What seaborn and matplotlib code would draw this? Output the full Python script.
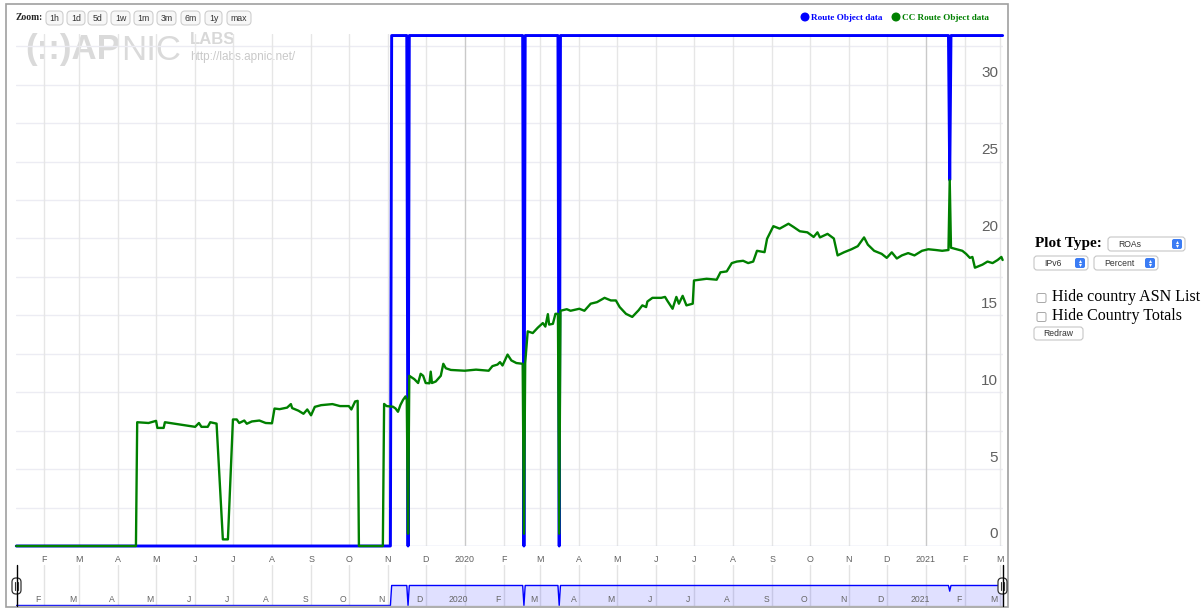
"""
Recreation of an APNIC Labs route-object chart (Highstock look) with seaborn.
"""

import pandas as pd
import matplotlib
matplotlib.use("Agg")
import matplotlib.pyplot as plt
import matplotlib.transforms as mtransforms
from matplotlib.patches import FancyBboxPatch, Rectangle, Circle
import seaborn as sns


# DATA

cc_dates = [
    "2019-01-10", "2019-04-15", "2019-04-16", "2019-04-25", "2019-05-01", "2019-05-02",
    "2019-05-07", "2019-05-08", "2019-05-20", "2019-06-01", "2019-06-04", "2019-06-06",
    "2019-06-11", "2019-06-13", "2019-06-18", "2019-06-23", "2019-06-27", "2019-07-01",
    "2019-07-04", "2019-07-06", "2019-07-10", "2019-07-12", "2019-07-16", "2019-07-22",
    "2019-07-27", "2019-08-01", "2019-08-03", "2019-08-07", "2019-08-13", "2019-08-16",
    "2019-08-17", "2019-08-22", "2019-08-26", "2019-08-29", "2019-09-01", "2019-09-04",
    "2019-09-09", "2019-09-18", "2019-09-24", "2019-10-01", "2019-10-03", "2019-10-06",
    "2019-10-08", "2019-10-09", "2019-10-28", "2019-10-29", "2019-10-31", "2019-11-05",
    "2019-11-07", "2019-11-09", "2019-11-11", "2019-11-13", "2019-11-15", "2019-11-16",
    "2019-11-17", "2019-11-18", "2019-11-22", "2019-11-25", "2019-11-27", "2019-11-29",
    "2019-12-01", "2019-12-04", "2019-12-05", "2019-12-06", "2019-12-09", "2019-12-13",
    "2019-12-15", "2019-12-17", "2019-12-21", "2020-01-01", "2020-01-10", "2020-01-20",
    "2020-01-23", "2020-01-27", "2020-01-29", "2020-01-31", "2020-02-04", "2020-02-07",
    "2020-02-11", "2020-02-16", "2020-02-17", "2020-02-18", "2020-02-20", "2020-02-24",
    "2020-02-28", "2020-03-03", "2020-03-05", "2020-03-07", "2020-03-08", "2020-03-11",
    "2020-03-13", "2020-03-15", "2020-03-16", "2020-03-17", "2020-03-22", "2020-03-25",
    "2020-04-01", "2020-04-05", "2020-04-10", "2020-04-15", "2020-04-21", "2020-04-26",
    "2020-04-30", "2020-05-03", "2020-05-08", "2020-05-13", "2020-05-18", "2020-05-21",
    "2020-05-24", "2020-05-25", "2020-05-29", "2020-06-05", "2020-06-08", "2020-06-10",
    "2020-06-14", "2020-06-17", "2020-06-19", "2020-06-22", "2020-06-25", "2020-06-30",
    "2020-07-01", "2020-07-11", "2020-07-19", "2020-07-22", "2020-07-27", "2020-07-31",
    "2020-08-04", "2020-08-09", "2020-08-13", "2020-08-17", "2020-08-20", "2020-08-26",
    "2020-08-28", "2020-09-02", "2020-09-07", "2020-09-14", "2020-09-18", "2020-09-23",
    "2020-09-29", "2020-10-04", "2020-10-07", "2020-10-09", "2020-10-15", "2020-10-20",
    "2020-10-23", "2020-10-28", "2020-11-03", "2020-11-08", "2020-11-13", "2020-11-16",
    "2020-11-21", "2020-11-27", "2020-12-01", "2020-12-05", "2020-12-09", "2020-12-13",
    "2020-12-18", "2020-12-23", "2020-12-29", "2021-01-03", "2021-01-09", "2021-01-14",
    "2021-01-19", "2021-01-20", "2021-01-21", "2021-01-30", "2021-02-02", "2021-02-05",
    "2021-02-07", "2021-02-09", "2021-02-15", "2021-02-19", "2021-02-23", "2021-02-27",
    "2021-03-02", "2021-03-03",
]
cc_values = [
    0, 0, 8.05, 8.0, 8.14, 7.68,
    7.68, 8.05, 7.9, 7.75, 8.0, 7.75,
    7.75, 8.05, 7.96, 0.43, 0.43, 8.23,
    8.23, 8.0, 8.16, 7.95, 8.1, 8.16,
    8.0, 7.98, 8.94, 8.9, 9.0, 9.23,
    8.97, 8.8, 8.6, 8.88, 8.5, 9.05,
    9.16, 9.23, 9.1, 9.1, 8.88, 9.4,
    9.44, 0, 0, 9.24, 9.1, 9.06,
    8.95, 8.73, 9.18, 9.5, 9.73, 9.5,
    0.8, 11.07, 10.85, 10.6, 11.2, 11.07,
    10.6, 10.58, 11.34, 10.6, 10.7, 11.07,
    11.85, 11.56, 11.45, 11.4, 11.47, 11.4,
    11.7, 11.8, 11.96, 11.74, 12.45, 12.07,
    11.9, 11.85, 0.8, 11.9, 13.96, 13.85,
    14.2, 14.5, 14.27, 15.08, 14.4, 14.45,
    15.1, 15.1, 0.8, 15.3, 15.4, 15.3,
    15.43, 15.3, 15.76, 15.86, 16.14, 15.97,
    15.97, 15.54, 15.1, 14.9, 15.33, 15.65,
    15.54, 15.9, 16.14, 16.14, 16.2, 15.93,
    15.43, 16.2, 15.76, 16.27, 15.65, 15.76,
    17.27, 17.38, 17.32, 17.8, 17.86, 18.4,
    18.5, 18.55, 18.4, 18.5, 19.2, 19.11,
    19.98, 20.8, 20.64, 20.96, 20.75, 20.47,
    20.4, 20.1, 20.4, 20.07, 20.3, 20.0,
    18.9, 19.1, 19.3, 19.5, 20.07, 19.6,
    19.2, 19.0, 18.74, 19.1, 18.7, 18.9,
    19.05, 18.9, 19.2, 19.3, 19.25, 19.2,
    19.25, 23.8, 19.4, 19.2, 19.0, 18.74,
    18.8, 18.1, 18.3, 18.5, 18.4, 18.6,
    18.8, 18.6,
]

ro_dates = [
    "2019-01-10", "2019-11-03", "2019-11-04", "2019-11-16", "2019-11-17", "2019-11-18",
    "2020-02-16", "2020-02-17", "2020-02-18", "2020-03-15", "2020-03-16", "2020-03-17",
    "2021-01-19", "2021-01-20", "2021-01-21", "2021-03-03",
]
ro_values = [
    0, 0, 33.2, 33.2, 0, 33.2,
    33.2, 0, 33.2, 33.2, 0, 33.2,
    33.2, 23.8, 33.2, 33.2,
]

month_letters = ["J", "F", "M", "A", "M", "J", "J", "A", "S", "O", "N", "D"]
y_labels = [0, 5, 10, 15, 20, 25, 30]
zoom_buttons = ["1h", "1d", "5d", "1w", "1m", "3m", "6m", "1y", "max"]
series_names = ["Route Object data", "CC Route Object data"]
series_colors = ["#0000ff", "#008000"]


# STYLE

sns.set_theme(style="white")
plt.rcParams["font.family"] = ["Liberation Sans", "DejaVu Sans"]
SERIF = ["Liberation Serif", "DejaVu Serif"]

W, H = 1202, 609
fig = plt.figure(figsize=(W / 100, H / 100), dpi=100, facecolor="white")


def box(x0, y0, x1, y1):
    """pixel box (top-left origin) -> figure fraction rect"""
    return [x0 / W, 1 - y1 / H, (x1 - x0) / W, (y1 - y0) / H]


# pixel overlays behind and in front of the plot axes
bg = fig.add_axes([0, 0, 1, 1], zorder=0)
fg = fig.add_axes([0, 0, 1, 1], zorder=10)
for o in (bg, fg):
    o.set_xlim(0, W)
    o.set_ylim(H, 0)
    o.axis("off")
    o.patch.set_alpha(0)

ax = fig.add_axes(box(16, 34, 1003, 546), zorder=5)
nav = fig.add_axes(box(16, 565, 1003, 606), zorder=5)
for a in (ax, nav):
    a.set_facecolor("none")
    for s in a.spines.values():
        s.set_visible(False)

cc = pd.DataFrame({"date": pd.to_datetime(cc_dates), "value": cc_values})
ro = pd.DataFrame({"date": pd.to_datetime(ro_dates), "value": ro_values})

x_min = pd.Timestamp("2019-01-09 19:00")
x_max = pd.Timestamp("2021-03-03 07:00")
months = pd.date_range("2019-02-01", "2021-03-01", freq="MS")
month_text = [str(d.year) if d.month == 1 else month_letters[d.month - 1] for d in months]


# MAIN PLOT

for v in [i * 2.5 for i in range(1, 14)]:
    ax.axhline(v, color="#ececf3", lw=1, zorder=0)
for d in months:
    ax.axvline(d, color="#c9c9c9" if d.month == 1 else "#e6e6e6", lw=1, zorder=0)
ax.axhline(0, color="#ccd6eb", lw=1, zorder=1)

sns.lineplot(data=ro, x="date", y="value", ax=ax, color=series_colors[0],
             lw=2.1, estimator=None, zorder=3)
sns.lineplot(data=cc, x="date", y="value", ax=ax, color=series_colors[1],
             lw=1.7, estimator=None, zorder=4)
for line in ax.lines[-2:]:
    line.set_clip_on(False)

ax.set_xlim(x_min, x_max)
ax.set_ylim(0, 33.3)
ax.set_xlabel("")
ax.set_ylabel("")
ax.set_yticks([])
ax.set_xticks(months)
ax.set_xticklabels(month_text)
ax.tick_params(axis="x", length=0, pad=6.5, labelsize=6.4, colors="#606060")

ytrans = mtransforms.blended_transform_factory(ax.transAxes, ax.transData)
shift = mtransforms.ScaledTranslation(-5 / 100, 11.5 / 100, fig.dpi_scale_trans)
for v in y_labels:
    ax.text(1, v, str(v), transform=ytrans + shift, ha="right", va="center",
            fontsize=11, color="#606060")


# NAVIGATOR

for d in months:
    nav.axvline(d, color="#e3e3e3", lw=1, zorder=0)
nav.fill_between(ro["date"], ro["value"], color="#0000ff", alpha=0.12, lw=0)
sns.lineplot(data=ro, x="date", y="value", ax=nav, color=series_colors[0],
             lw=1.0, estimator=None)
nav.set_xlim(x_min, x_max)
nav.set_ylim(-0.83, 67.2)
nav.set_xticks([])
nav.set_yticks([])
nav.set_xlabel("")
nav.set_ylabel("")
nav.axhline(-0.83, color="#bbbbbb", lw=1)

ntrans = mtransforms.blended_transform_factory(nav.transData, nav.transAxes)
nshift = mtransforms.ScaledTranslation(-6 / 100, 0, fig.dpi_scale_trans)
for d, t in zip(months, month_text):
    nav.text(d, 0.15, t, transform=ntrans + nshift, ha="center", va="center",
             fontsize=6.2, color="#666666")

# navigator handles
for hx in (16.5, 1002.5):
    fg.plot([hx, hx], [565, 606], color="black", lw=1)
    fg.add_patch(FancyBboxPatch((hx - 4.5, 578), 9, 16,
                                boxstyle="round,pad=0,rounding_size=4",
                                fc="white", ec="#333333", lw=0.9))
    fg.plot([hx - 1.3, hx - 1.3], [582, 590], color="#333333", lw=0.8)
    fg.plot([hx + 1.3, hx + 1.3], [582, 590], color="#333333", lw=0.8)


# CHART FRAME, ZOOM BUTTONS, LEGEND, WATERMARK

bg.add_patch(Rectangle((6, 4), 1002, 603, fill=False, ec="#a0a0a0", lw=1.2))

bg.text(16, 18, "Zoom:", family=SERIF, fontweight="bold", fontsize=6.9,
        va="center", ha="left", color="#222222")
btn_x = [46, 67, 88, 111, 134, 157, 181, 205, 227]
btn_w = [17, 18, 19, 19, 19, 19, 19, 17, 24]
for label, bx, bw in zip(zoom_buttons, btn_x, btn_w):
    bg.add_patch(FancyBboxPatch((bx, 11), bw, 14, boxstyle="round,pad=0,rounding_size=4",
                                fc="#f7f7f7", ec="#cfcfcf", lw=0.8))
    bg.text(bx + bw / 2, 18.5, label, ha="center", va="center", fontsize=6.3,
            color="#333333")

legend_x = [805, 896]
for name, color, lx in zip(series_names, series_colors, legend_x):
    fg.add_patch(Circle((lx, 17), 3.8, color=color))
    fg.text(lx + 6, 17.5, name, family=SERIF, fontweight="bold", fontsize=6.6,
            color=color, ha="left", va="center")

bg.text(25, 50, "(::)AP", fontsize=25, fontweight="bold", color="#dadada",
        ha="left", va="center")
bg.text(121, 50, "NIC", fontsize=25, color="#dadada", ha="left", va="center")
bg.text(190, 39, "LABS", fontsize=12, fontweight="bold", color="#d8d8d8",
        ha="left", va="center")
bg.text(190, 57, "http://labs.apnic.net/", fontsize=8.5, color="#c9c9c9",
        ha="left", va="center")


# RIGHT-HAND FORM CONTROLS

def select_box(x0, y0, w, text):
    fg.add_patch(FancyBboxPatch((x0, y0), w, 14, boxstyle="round,pad=0,rounding_size=3",
                                fc="white", ec="#c6c6c6", lw=0.8))
    fg.text(x0 + 10, y0 + 7.5, text, fontsize=6.2, color="#333333", ha="left",
            va="center")
    ix = x0 + w - 13
    fg.add_patch(FancyBboxPatch((ix, y0 + 2), 10, 10, boxstyle="round,pad=0,rounding_size=2",
                                fc="#3b7cf4", ec="none"))
    fg.plot(ix + 5, y0 + 5.3, marker="^", ms=2.2, color="white", mec="none")
    fg.plot(ix + 5, y0 + 8.9, marker="v", ms=2.2, color="white", mec="none")


fg.text(1035, 244, "Plot Type:", family=SERIF, fontweight="bold", fontsize=11,
        ha="left", va="center", color="black")
select_box(1108, 237, 77, "ROAs")
select_box(1034, 256, 54, "IPv6")
select_box(1094, 256, 64, "Percent")

for cy, label in [(298, "Hide country ASN List"), (317, "Hide Country Totals")]:
    fg.add_patch(FancyBboxPatch((1037, cy - 4.5), 9, 9, boxstyle="round,pad=0,rounding_size=1.5",
                                fc="white", ec="#a8a8a8", lw=0.7))
    fg.text(1052, cy - 1, label, family=SERIF, fontsize=11.5, ha="left",
            va="center", color="black")

fg.add_patch(FancyBboxPatch((1034, 327), 49, 13, boxstyle="round,pad=0,rounding_size=3",
                            fc="white", ec="#c6c6c6", lw=0.8))
fg.text(1058.5, 334, "Redraw", fontsize=6.2, ha="center", va="center", color="#333333")

fig.savefig("out.png", dpi=100, facecolor="white")
